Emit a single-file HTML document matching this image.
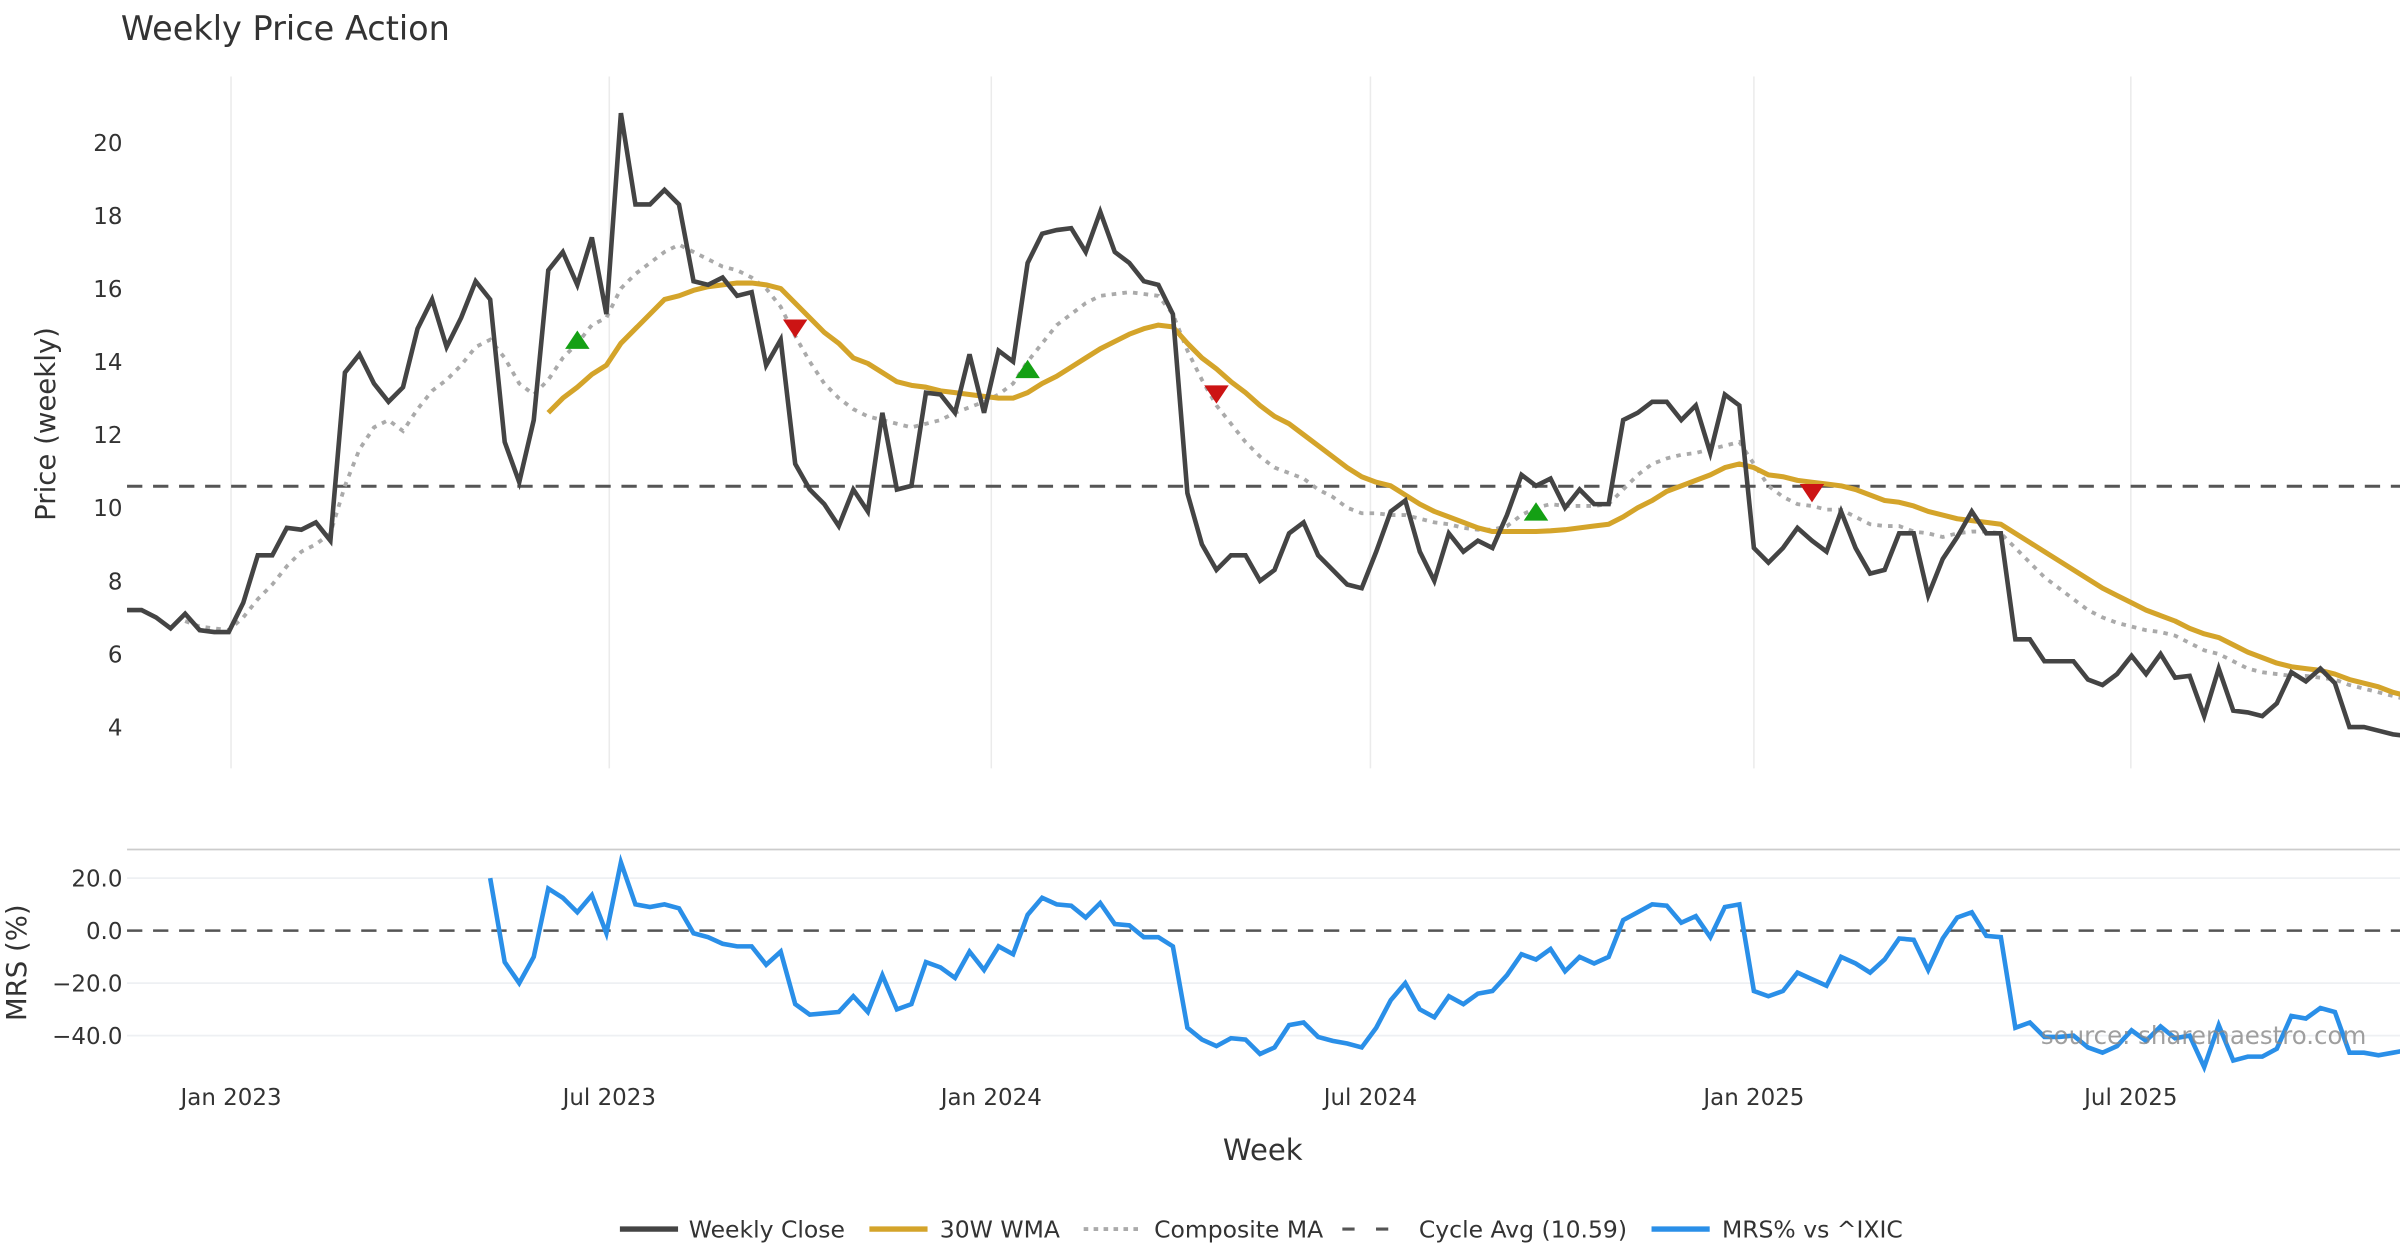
<!DOCTYPE html>
<html><head><meta charset="utf-8"><style>
html,body{margin:0;padding:0;background:#fff;}
svg{display:block;font-family:"DejaVu Sans","Liberation Sans",sans-serif;}
</style></head><body>
<svg id="chart" width="2400" height="1260" viewBox="0 0 1568 823.2" preserveAspectRatio="none" xmlns="http://www.w3.org/2000/svg">
<text x="79" y="26" font-size="21.9" fill="#333">Weekly Price Action</text>
<g id="grid"></g>
<g id="marks"></g>
<g id="axes"></g>
<text x="1546" y="682" font-size="16" fill="#888" text-anchor="end" opacity="0.8">source: sharemaestro.com</text>
<text transform="translate(36,277) rotate(-90)" font-size="18" fill="#333" text-anchor="middle">Price (weekly)</text>
<text transform="translate(17,629) rotate(-90)" font-size="18" fill="#333" text-anchor="middle">MRS (%)</text>
<text x="825" y="758" font-size="19" fill="#333" text-anchor="middle">Week</text>
<g font-size="15.35" fill="#333">
 <g><line x1="405" y1="803" x2="443" y2="803" stroke="#444" stroke-width="3.5"/><text x="450" y="808.5">Weekly Close</text></g>
 <g><line x1="568" y1="803" x2="606" y2="803" stroke="#d4a42a" stroke-width="3.5"/><text x="614" y="808.5">30W WMA</text></g>
 <g><line x1="708" y1="803" x2="745" y2="803" stroke="#aaa" stroke-width="2.5" stroke-dasharray="3,3.5"/><text x="754" y="808.5">Composite MA</text></g>
 <g><line x1="877" y1="803" x2="915" y2="803" stroke="#555" stroke-width="2" stroke-dasharray="8,14"/><text x="927" y="808.5">Cycle Avg (10.59)</text></g>
 <g><line x1="1079" y1="803" x2="1117" y2="803" stroke="#2a8fe8" stroke-width="3.5"/><text x="1125" y="808.5">MRS% vs ^IXIC</text></g>
</g>
</svg>
<script>
const closeVals=[7.2,7.2,7.0,6.7,7.1,6.65,6.6,6.6,7.4,8.7,8.7,9.45,9.4,9.6,9.1,13.7,14.2,13.4,12.9,13.3,14.9,15.7,14.4,15.2,16.2,15.7,11.8,10.7,12.4,16.5,17.0,16.1,17.4,15.3,20.8,18.3,18.3,18.7,18.3,16.2,16.1,16.3,15.8,15.9,13.9,14.6,11.2,10.5,10.1,9.5,10.5,9.9,12.6,10.5,10.6,13.15,13.1,12.6,14.2,12.6,14.3,14.0,16.7,17.5,17.6,17.65,17.0,18.1,17.0,16.7,16.2,16.1,15.3,10.4,9.0,8.3,8.7,8.7,8.0,8.3,9.3,9.6,8.7,8.3,7.9,7.8,8.8,9.9,10.2,8.8,8.0,9.3,8.8,9.1,8.9,9.8,10.9,10.6,10.8,10.0,10.5,10.1,10.1,12.4,12.6,12.9,12.9,12.4,12.8,11.5,13.1,12.8,8.9,8.5,8.9,9.45,9.1,8.8,9.9,8.9,8.2,8.3,9.3,9.3,7.6,8.6,9.2,9.9,9.3,9.3,6.4,6.4,5.8,5.8,5.8,5.3,5.15,5.45,5.95,5.45,6.0,5.35,5.4,4.3,5.6,4.45,4.4,4.3,4.65,5.5,5.25,5.6,5.2,4.0,4.0,3.9,3.8,3.75];
const wmaVals=[12.6,13.0,13.3,13.65,13.9,14.5,14.9,15.3,15.7,15.8,15.95,16.05,16.1,16.15,16.15,16.1,16.0,15.6,15.2,14.8,14.5,14.1,13.95,13.7,13.45,13.35,13.3,13.2,13.15,13.1,13.05,13.0,13.0,13.15,13.4,13.6,13.85,14.1,14.35,14.55,14.75,14.9,15.0,14.95,14.5,14.1,13.8,13.45,13.15,12.8,12.5,12.3,12.0,11.7,11.4,11.1,10.85,10.7,10.6,10.35,10.1,9.9,9.75,9.6,9.45,9.35,9.35,9.35,9.35,9.37,9.4,9.45,9.5,9.55,9.75,10.0,10.2,10.45,10.6,10.75,10.9,11.1,11.2,11.1,10.9,10.85,10.75,10.7,10.65,10.6,10.5,10.35,10.2,10.15,10.05,9.9,9.8,9.7,9.65,9.6,9.55,9.3,9.05,8.8,8.55,8.3,8.05,7.8,7.6,7.4,7.2,7.05,6.9,6.7,6.55,6.45,6.25,6.05,5.9,5.75,5.65,5.6,5.55,5.45,5.3,5.2,5.1,4.95,4.85];
const compVals=[6.9,6.75,6.7,6.65,7.0,7.5,7.9,8.4,8.8,9.0,9.3,10.6,11.6,12.2,12.4,12.1,12.7,13.2,13.5,13.9,14.4,14.6,14.1,13.4,13.1,13.5,14.1,14.5,15.0,15.2,16.0,16.4,16.7,17.0,17.2,17.0,16.8,16.6,16.5,16.3,16.0,15.5,14.7,14.0,13.4,13.0,12.7,12.5,12.4,12.3,12.2,12.3,12.4,12.6,12.75,12.9,13.1,13.4,14.0,14.5,15.0,15.3,15.6,15.8,15.85,15.9,15.85,15.8,15.3,14.3,13.5,12.8,12.3,11.8,11.4,11.1,10.95,10.8,10.5,10.3,10.0,9.85,9.85,9.8,9.8,9.7,9.6,9.55,9.45,9.4,9.4,9.5,9.8,10.0,10.1,10.05,10.05,10.05,10.1,10.5,10.9,11.2,11.35,11.45,11.5,11.6,11.7,11.8,11.2,10.6,10.3,10.1,10.05,9.95,9.95,9.75,9.55,9.5,9.5,9.35,9.3,9.2,9.3,9.35,9.35,9.3,8.9,8.5,8.1,7.8,7.5,7.2,7.0,6.85,6.75,6.65,6.6,6.5,6.3,6.1,6.0,5.8,5.6,5.5,5.45,5.4,5.4,5.35,5.3,5.15,5.05,4.95,4.85,4.75];
const mrsVals=[20,-12,-20,-10,16,12.5,7,13.5,-1,26,10,9,10,8.5,-1,-2.5,-5,-6,-6,-13,-8,-28,-32,-31.5,-31,-25,-31,-17,-30,-28,-12,-14,-18,-8,-15,-6,-9,6,12.5,10,9.5,5,10.5,2.5,2,-2.5,-2.5,-6,-37,-41.5,-44,-41,-41.5,-47,-44.5,-36,-35,-40.5,-42,-43,-44.5,-37,-26.5,-20,-30,-33,-25,-28,-24,-23,-17,-9,-11,-7,-15.5,-10,-12.5,-10,4,7,10,9.5,3,5.5,-2.5,9,10,-23,-25,-23,-16,-18.5,-21,-10,-12.5,-16,-11,-3,-3.5,-15,-3,5,7,-2,-2.5,-37,-35,-40.5,-40.5,-40,-44.5,-46.5,-44,-38,-42,-36.5,-41,-40,-52,-36,-49.5,-48,-48,-45,-32.5,-33.5,-29.5,-31,-46.5,-46.5,-47.5,-46.5,-45.5];
const cycleAvg=10.59;
const buyIdx=[31,62,97];
const buyPrice=[14.6,13.8,9.9];
const sellIdx=[46,75,116];
const sellPrice=[14.9,13.1,10.4];
const priceTicks=[4,6,8,10,12,14,16,18,20];
const mrsTicks=[20,0,-20,-40];
const mrsTickLabels=["20.0","0.0","\u221220.0","\u221240.0"];
const dateLabels=["Jan 2023","Jul 2023","Jan 2024","Jul 2024","Jan 2025","Jul 2025"];
const dateWeekIdx=[7.16,33.2,59.5,85.6,112.0,137.95];

const NS="http://www.w3.org/2000/svg";
const N=closeVals.length;
const X0=83,DX=9.49;
function xOf(i){return X0+i*DX;}
function yP(v){return 475-(v-4)*23.875;}
function yM(v){return 608-v*1.715;}
function mk(tag,attrs,parent){const e=document.createElementNS(NS,tag);for(const k in attrs)e.setAttribute(k,attrs[k]);parent.appendChild(e);return e;}
const grid=document.getElementById('grid'),marks=document.getElementById('marks'),axes=document.getElementById('axes');

dateWeekIdx.forEach((w,k)=>{
  const x=xOf(w);
  const g=mk('line',{x1:x,y1:50,x2:x,y2:502,stroke:'#ebebeb','stroke-width':1},grid);
  
  
  const t=mk('text',{x:x,y:722,'font-size':15,fill:'#333','text-anchor':'middle'},axes);
  t.textContent=dateLabels[k];
  
  
});
priceTicks.forEach(v=>{
  const t=mk('text',{x:80,y:yP(v)+5.5,'font-size':15,fill:'#333','text-anchor':'end'},axes);
  t.textContent=String(v);
  
  
});
const sep=mk('line',{x1:83,y1:555,x2:1568,y2:555,stroke:'#ccc','stroke-width':1.2},grid);


mrsTicks.forEach((v,k)=>{
  if(v!==0){const g=mk('line',{x1:83,y1:yM(v),x2:1568,y2:yM(v),stroke:'#eef0f3','stroke-width':1.2},grid);
  
  }
  const t=mk('text',{x:80,y:yM(v)+5.5,'font-size':15,fill:'#333','text-anchor':'end'},axes);
  t.textContent=mrsTickLabels[k];
  
  
});
const cy=mk('line',{x1:83,y1:yP(cycleAvg),x2:1568,y2:yP(cycleAvg),stroke:'#555','stroke-width':2,'stroke-dasharray':'10,7'},marks);


const z=mk('line',{x1:83,y1:yM(0),x2:1568,y2:yM(0),stroke:'#555','stroke-width':1.6,'stroke-dasharray':'10,7'},marks);



function path(vals,yf){const off=N-vals.length;return vals.map((v,i)=>(i?'L':'M')+xOf(off+i).toFixed(2)+','+yf(v).toFixed(2)).join(' ');}
const cm=mk('path',{d:path(compVals,yP),fill:'none',stroke:'#aaa','stroke-width':2.5,'stroke-dasharray':'3,4'},marks);


const wl=mk('path',{d:path(wmaVals,yP),fill:'none',stroke:'#d4a42a','stroke-width':3.3,'stroke-linejoin':'round'},marks);


const cl=mk('path',{d:path(closeVals,yP),fill:'none',stroke:'#444','stroke-width':3,'stroke-linejoin':'miter'},marks);


const ml=mk('path',{d:path(mrsVals,yM),fill:'none',stroke:'#2a8fe8','stroke-width':3,'stroke-linejoin':'miter'},marks);


buyIdx.forEach((i,k)=>{const x=xOf(i),y=yP(buyPrice[k]);
  const p=mk('polygon',{points:`${x-8},${y+6} ${x+8},${y+6} ${x},${y-6}`,fill:'#14a014'},marks);
  
  });
sellIdx.forEach((i,k)=>{const x=xOf(i),y=yP(sellPrice[k]);
  const p=mk('polygon',{points:`${x-8},${y-6} ${x+8},${y-6} ${x},${y+6}`,fill:'#cc1414'},marks);
  
  });
</script>
</body></html>
